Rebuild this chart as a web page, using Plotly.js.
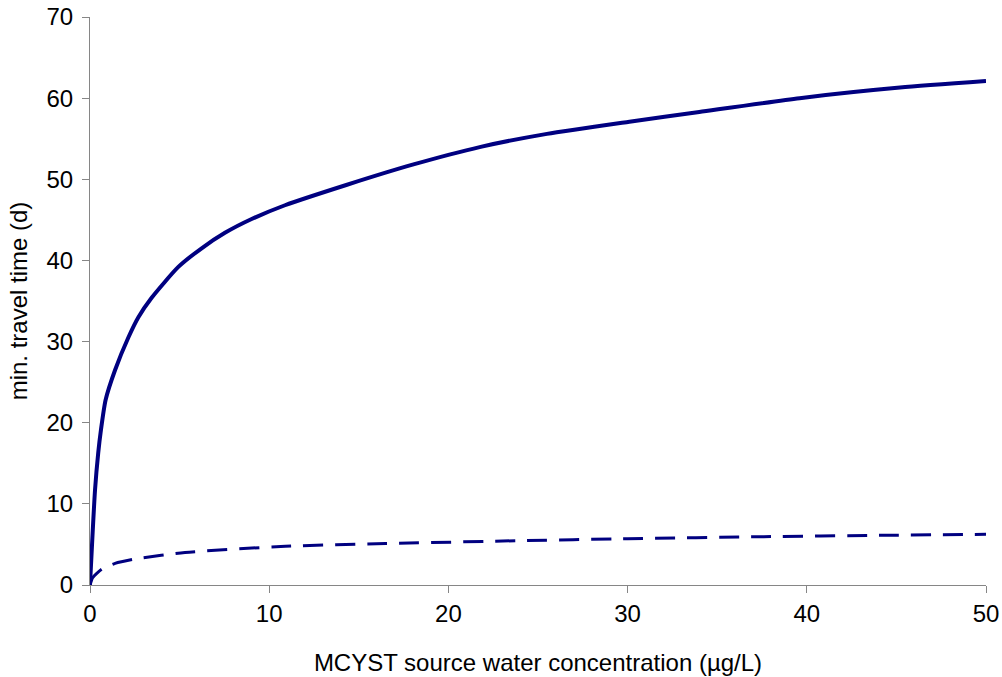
<!DOCTYPE html>
<html>
<head>
<meta charset="utf-8">
<script src="https://cdn.plot.ly/plotly-3.0.1.min.js"></script>
<style>html,body{margin:0;padding:0;background:#fff}#chart{width:1002px;height:677px}</style>
</head>
<body>
<div id="chart"></div>
<script>
// Solid curve: minimum travel time (d)
var xSolid = [0, 0.28, 0.46, 0.61, 0.87, 1.4, 2.14, 2.7, 3.44, 4.93, 6.23, 7.53, 9.02, 10.88, 14.3, 18.0, 21.8, 25.5, 30.1, 34.0, 39.6, 45.2, 50];
var ySolid = [0, 11.7, 16.3, 19.1, 22.8, 26.5, 30.5, 33.0, 35.4, 39.2, 41.5, 43.4, 45.1, 46.8, 49.3, 51.8, 54.0, 55.6, 57.1, 58.3, 60.0, 61.3, 62.1];
// Dashed curve
var xDash = [0, 0.15, 0.65, 1.4, 2.5, 5.3, 10.9, 16.5, 23.9, 30.0, 37.6, 44.0, 50];
var yDash = [0, 0.9, 1.93, 2.67, 3.2, 4.0, 4.77, 5.1, 5.46, 5.7, 5.96, 6.12, 6.25];

var xTitle = 'MCYST source water concentration (µg/L)';
var yTitle = 'min. travel time (d)';

var FONT = 'Liberation Sans, Arial, sans-serif';

var traces = [
  {x: xSolid, y: ySolid, mode: 'lines', line: {color: '#000080', width: 4, shape: 'spline', smoothing: 0.6}, hoverinfo: 'x+y'},
  {x: xDash, y: yDash, mode: 'lines', line: {color: '#000080', width: 3, dash: '20px,12px', shape: 'spline', smoothing: 0.6}, hoverinfo: 'x+y'}
];

var axisCommon = {
  showgrid: false, zeroline: false, showline: true, linecolor: '#868686', linewidth: 1,
  ticks: 'outside', ticklen: 7, tickcolor: '#868686', tickwidth: 1,
  tickfont: {family: FONT, size: 24, color: '#000'}
};

var layout = {
  width: 1002, height: 677,
  margin: {l: 90, r: 16, t: 17, b: 92},
  paper_bgcolor: '#fff', plot_bgcolor: '#fff',
  showlegend: false,
  xaxis: Object.assign({}, axisCommon, {
    range: [0, 50], tickvals: [0, 10, 20, 30, 40, 50],
    title: {text: xTitle, font: {family: FONT, size: 24, color: '#000'}, standoff: 28}
  }),
  yaxis: Object.assign({}, axisCommon, {
    range: [0, 70], tickvals: [0, 10, 20, 30, 40, 50, 60, 70],
    ticklabelstandoff: 4,
    title: {text: yTitle, font: {family: FONT, size: 24, color: '#000'}, standoff: 12}
  })
};

Plotly.newPlot('chart', traces, layout, {displayModeBar: false, staticPlot: true});
</script>
</body>
</html>
